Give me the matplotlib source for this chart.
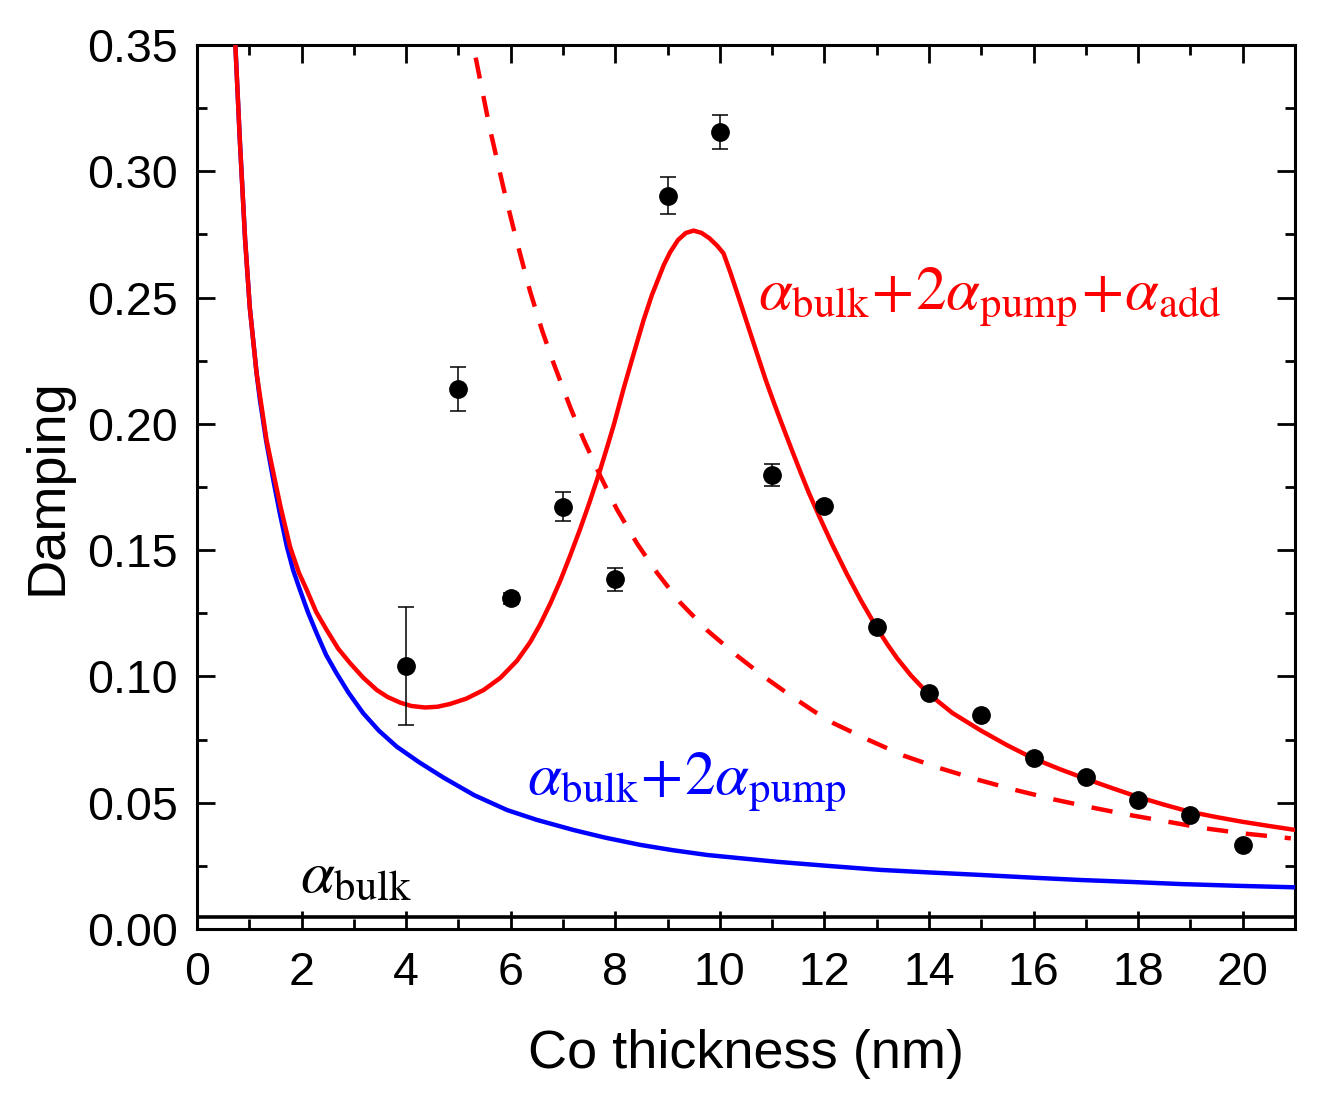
import matplotlib
matplotlib.use("Agg")
import matplotlib.pyplot as plt
from matplotlib.ticker import MultipleLocator, FormatStrFormatter

plt.rcParams['font.family'] = ['Liberation Sans', 'DejaVu Sans']
plt.rcParams['mathtext.fontset'] = 'stix'

# measured damping vs Co thickness
thickness = [4, 5, 6, 7, 8, 9, 10, 11, 12, 13, 14, 15, 16, 17, 18, 19, 20]
damping = [0.1042, 0.2138, 0.1309, 0.1672, 0.1384, 0.2903, 0.3155, 0.1797, 0.1676,
           0.1197, 0.0935, 0.0847, 0.0676, 0.0601, 0.0511, 0.0451, 0.0333]
damping_err = [0.0233, 0.0087, 0.0021, 0.0058, 0.0047, 0.0073, 0.0067, 0.0043, 0.0015,
               0.0012, 0.0010, 0.0010, 0.0008, 0.0008, 0.0006, 0.0006, 0.0005]

alpha_bulk = 0.0048

# alpha_bulk + 2 alpha_pump (blue)
blue_x = [0.72, 0.82, 0.92, 1.01, 1.14, 1.20, 1.32, 1.46, 1.58, 1.72, 1.84, 1.97,
          2.12, 2.29, 2.47, 2.67, 2.90, 3.18, 3.48, 3.82, 4.25, 4.71, 5.30, 5.93,
          6.50, 7.20, 7.80, 8.48, 9.10, 9.76, 10.40, 11.10, 12.00, 13.07, 14.00,
          14.99, 16.00, 16.90, 17.90, 18.81, 19.90, 21.01]
blue_y = [0.356, 0.312, 0.273, 0.246, 0.220, 0.2100, 0.1936, 0.1777, 0.1650, 0.1513,
          0.1420, 0.1342, 0.1255, 0.1170, 0.1085, 0.1012, 0.0935, 0.0854, 0.0785,
          0.0722, 0.0660, 0.0600, 0.0530, 0.0471, 0.0432, 0.0392, 0.0362, 0.0333,
          0.0312, 0.0293, 0.0280, 0.0266, 0.0251, 0.0234, 0.0224, 0.0214, 0.0203,
          0.0194, 0.0186, 0.0178, 0.0171, 0.0165]

# alpha_bulk + 2 alpha_pump + alpha_add (red solid)
red_x = [0.72, 0.82, 0.92, 1.01, 1.14, 1.33, 1.49, 1.60, 1.78, 1.95, 2.10, 2.28,
         2.48, 2.70, 2.93, 3.18, 3.44, 3.65, 3.89, 4.10, 4.36, 4.60, 4.84, 5.15,
         5.48, 5.80, 6.12, 6.37, 6.56, 6.76, 6.95, 7.14, 7.33, 7.50, 7.68, 7.84,
         7.97, 8.16, 8.32, 8.54, 8.70, 8.93, 9.05, 9.20, 9.35, 9.50, 9.65, 9.80,
         9.95, 10.07, 10.20, 10.39, 10.55, 10.74, 10.88, 11.04, 11.20, 11.37, 11.54,
         11.70, 11.92, 12.15, 12.43, 12.70, 12.98, 13.20, 13.39, 13.65, 13.97, 14.45,
         14.99, 15.50, 15.99, 16.50, 16.98, 17.50, 17.98, 18.50, 18.99, 19.50, 19.98,
         20.50, 21.01]
red_y = [0.356, 0.312, 0.273, 0.246, 0.220, 0.1936, 0.1777, 0.1670, 0.1513, 0.1410,
         0.1342, 0.1255, 0.1184, 0.1110, 0.1052, 0.0995, 0.0946, 0.0918, 0.0896,
         0.0883, 0.0877, 0.0880, 0.0891, 0.0912, 0.0946, 0.0994, 0.1062, 0.1135,
         0.1205, 0.1290, 0.1380, 0.1480, 0.1585, 0.1685, 0.1797, 0.1905, 0.1995,
         0.2140, 0.2255, 0.2410, 0.2510, 0.2630, 0.2680, 0.2728, 0.2756, 0.2765,
         0.2756, 0.2735, 0.2705, 0.2675, 0.2600, 0.2482, 0.2380, 0.2260, 0.2172,
         0.2080, 0.1992, 0.1900, 0.1810, 0.1728, 0.1625, 0.1522, 0.1405, 0.1300,
         0.1200, 0.1128, 0.1072, 0.1005, 0.0935, 0.0855, 0.0786, 0.0727, 0.0676,
         0.0633, 0.0596, 0.0558, 0.0524, 0.0492, 0.0464, 0.0443, 0.0425, 0.0408,
         0.0392]

# red dashed curve
dash_x = [5.33, 5.60, 5.86, 6.10, 6.37, 6.60, 6.82, 7.14, 7.39, 7.71, 8.03, 8.42,
          8.80, 9.24, 9.76, 10.33, 10.85, 11.38, 11.80, 12.18, 12.85, 13.52, 14.22,
          14.95, 15.66, 16.39, 17.09, 17.82, 18.56, 19.26, 20.03, 20.92]
dash_y = [0.345, 0.317, 0.2935, 0.2735, 0.2525, 0.2370, 0.2240, 0.2065, 0.1940,
          0.1795, 0.1662, 0.1525, 0.1410, 0.1293, 0.1182, 0.1082, 0.0998, 0.0920,
          0.0862, 0.0814, 0.0748, 0.0686, 0.0636, 0.0590, 0.0550, 0.0513, 0.0482,
          0.0452, 0.0425, 0.0399, 0.0378, 0.0359]

fig = plt.figure(figsize=(13.34, 10.94), dpi=100)
ax = fig.add_axes([197 / 1334, 165 / 1094, 1098 / 1334, 884 / 1094])

ax.axhline(alpha_bulk, color='black', lw=2.6, zorder=2)
ax.plot(blue_x, blue_y, color='#0000FF', lw=3.2, zorder=3, solid_joinstyle='round')
ax.plot(dash_x, dash_y, color='#FF0000', lw=3.2, ls=(0, (4.8, 4)), zorder=3)
ax.plot(red_x, red_y, color='#FF0000', lw=3.2, zorder=4, solid_joinstyle='round')
ax.errorbar(thickness, damping, yerr=damping_err, fmt='o', color='black',
            ms=12.5, elinewidth=1.1, capsize=6, capthick=1.1, zorder=5)

ax.text(10.72, 0.245, r'$\alpha_{\mathrm{bulk}}\!+\!2\alpha_{\mathrm{pump}}\!+\!\alpha_{\mathrm{add}}$',
        color='#FF0000', fontsize=44, va='baseline', ha='left')
ax.text(6.32, 0.053, r'$\alpha_{\mathrm{bulk}}\!+\!2\alpha_{\mathrm{pump}}$',
        color='#0000FF', fontsize=44, va='baseline', ha='left')
ax.text(1.97, 0.0148, r'$\alpha_{\mathrm{bulk}}$',
        color='black', fontsize=44, va='baseline', ha='left')

ax.set_xlim(0, 21)
ax.set_ylim(0, 0.35)
ax.xaxis.set_major_locator(MultipleLocator(2))
ax.xaxis.set_minor_locator(MultipleLocator(1))
ax.yaxis.set_major_locator(MultipleLocator(0.05))
ax.yaxis.set_minor_locator(MultipleLocator(0.025))
ax.yaxis.set_major_formatter(FormatStrFormatter('%.2f'))

ax.tick_params(which='both', direction='in', top=True, right=True, width=2)
ax.tick_params(which='major', length=13, labelsize=33.5)
ax.tick_params(axis='x', which='major', pad=16)
ax.tick_params(axis='y', which='major', pad=14)
ax.tick_params(which='minor', length=7)
for s in ax.spines.values():
    s.set_linewidth(2.2)

ax.set_xlabel('Co thickness (nm)', fontsize=39, labelpad=24)
ax.set_ylabel('Damping', fontsize=39, labelpad=10)

fig.savefig('out.png', dpi=100)
